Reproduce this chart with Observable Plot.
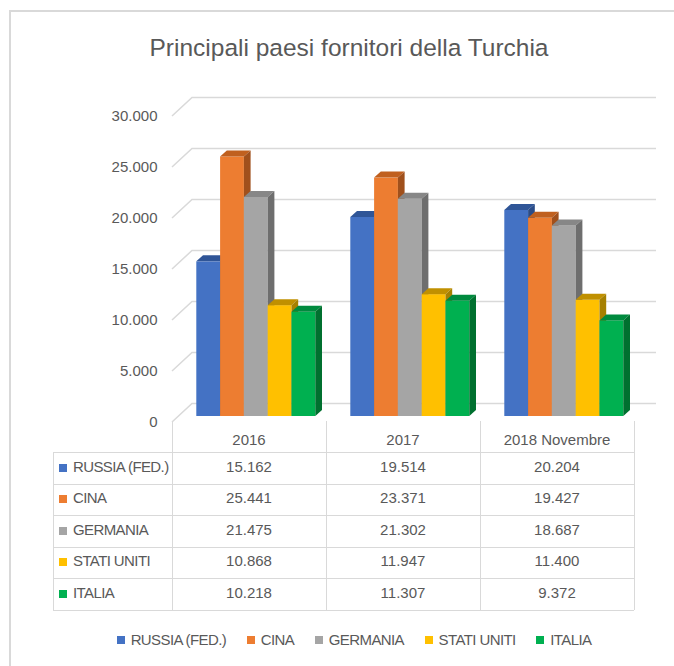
<!DOCTYPE html>
<html><head><meta charset="utf-8">
<script src="https://cdn.jsdelivr.net/npm/d3@7"></script>
<script src="https://cdn.jsdelivr.net/npm/@observablehq/plot@0.6"></script>
<style>
body{margin:0;background:#fff;}
#chart{position:relative;width:674px;height:666px;overflow:hidden;background:#fff;
  font-family:"Liberation Sans",Arial,sans-serif;color:#595959;}
.abs{position:absolute;}
.hl{position:absolute;height:0;border-top:1.5px solid #D9D9D9;}
.vl{position:absolute;width:0;border-left:1.5px solid #D9D9D9;}
.cell{position:absolute;font-size:15px;line-height:18px;text-align:center;white-space:nowrap;}
.lab{letter-spacing:-0.6px;}
.mk{position:absolute;width:8px;height:8px;}
#legend{position:absolute;left:0;width:708px;top:631px;display:flex;justify-content:center;align-items:center;font-size:15px;line-height:18px;letter-spacing:-0.6px;}
#legend .it{display:flex;align-items:center;margin:0 10.3px;white-space:nowrap;}
#legend .sw{width:8px;height:8px;margin-right:6px;}
</style></head>
<body><div id="chart"></div>
<script>
// ---- data ----
const title = "Principali paesi fornitori della Turchia";
const years = ["2016", "2017", "2018 Novembre"];
const series = ["RUSSIA (FED.)", "CINA", "GERMANIA", "STATI UNITI", "ITALIA"];
const russia = [15162, 19514, 20204];
const cina = [25441, 23371, 19427];
const germania = [21475, 21302, 18687];
const statiUniti = [10868, 11947, 11400];
const italia = [10218, 11307, 9372];
const yTicks = [0, 5000, 10000, 15000, 20000, 25000, 30000];
const frontColors = ["#4472C4", "#ED7D31", "#A5A5A5", "#FFC000", "#00B050"];
const topColors = ["#2F5597", "#C0601F", "#878787", "#C09000", "#008A3E"];
const sideColors = ["#2A4C88", "#A0501C", "#6E6E6E", "#A68000", "#00702F"];

const values = [russia, cina, germania, statiUniti, italia];
const fmt = d3.formatLocale({decimal: ",", thousands: ".", grouping: [3], currency: ["", "€"]}).format(",");

// ---- layout ----
const W = 674, SVG_TOP = 80, SVG_H = 350;
const mL = 178.7, mR = 33.3, mT = 30, mB = 14;
const band = (W - mL - mR) / years.length;
const clusterStart = 17.3, barW = 23.8;
const depth = [6.7, -6];        // bar depth projection
const wall = [13.3, -12.5];     // bar front -> back wall
const front = [-6.7, 6];        // bar front -> front plane
const gridColor = "#D9D9D9";

const chart = document.getElementById("chart");

// border + title
chart.insertAdjacentHTML("beforeend",
  `<div class="hl" style="left:9px;top:10px;width:670px;border-top-width:2px"></div>
   <div class="vl" style="left:9px;top:10px;height:660px;border-left-width:2px"></div>
   <div class="abs" style="left:0;width:698px;top:33px;text-align:center;font-size:24.5px;line-height:30px;color:#595959">${title}</div>`);

function gridMark(index, scales) {
  const g = d3.create("svg:g").attr("fill", "none").attr("stroke", gridColor).attr("stroke-width", 1.5);
  const xl = mL + front[0];
  const xw = mL + wall[0];
  const xr = W - mR + wall[0] + 2;
  for (const t of yTicks) {
    const y = scales.y(t);
    g.append("path").attr("d", `M${xl},${y + front[1]}L${xw},${y + wall[1]}L${xr},${y + wall[1]}`);
  }
  return g.node();
}

function facesMark(j) {
  return (index, scales) => {
    const g = d3.create("svg:g");
    years.forEach((yr, i) => {
      const v = values[j][i];
      const x0 = scales.x(yr) + clusterStart + j * barW, x1 = x0 + barW;
      const yt = scales.y(v), yb = scales.y(0);
      const [dx, dy] = depth;
      g.append("polygon").attr("points", [[x0, yt], [x1, yt], [x1 + dx, yt + dy], [x0 + dx, yt + dy]].map(p => p.join(",")).join(" ")).attr("fill", topColors[j]);
      g.append("polygon").attr("points", [[x1, yt], [x1 + dx, yt + dy], [x1 + dx, yb + dy], [x1, yb]].map(p => p.join(",")).join(" ")).attr("fill", sideColors[j]);
    });
    return g.node();
  };
}

const marks = [gridMark];
series.forEach((s, j) => {
  const data = years.map((yr, i) => ({year: yr, value: values[j][i]}));
  marks.push(Plot.barY(data, {
    x: "year", y: "value", fill: frontColors[j],
    insetLeft: clusterStart + j * barW,
    insetRight: band - clusterStart - (j + 1) * barW
  }));
  marks.push(facesMark(j));
});
marks.push(Plot.text(yTicks, {
  y: d => d, text: d => fmt(d), frameAnchor: "left", textAnchor: "end",
  dx: -21.7, dy: front[1], fontSize: 15, fill: "#595959",
  fontFamily: '"Liberation Sans",Arial,sans-serif'
}));

const svg = Plot.plot({
  width: W, height: SVG_H,
  marginLeft: mL, marginRight: mR, marginTop: mT, marginBottom: mB,
  x: {domain: years, padding: 0, axis: null},
  y: {domain: [0, 30000], axis: null},
  style: {background: "transparent", overflow: "visible"},
  marks
});
const wrap = document.createElement("div");
wrap.className = "abs";
wrap.style.left = "0px"; wrap.style.top = SVG_TOP + "px";
wrap.appendChild(svg);
chart.appendChild(wrap);

// ---- data table ----
const colX = [53].concat(years.map((_, i) => mL + front[0] + i * band), [mL + front[0] + years.length * band]);
const headerTop = 421, rowTop = 452, rowH = 31.5;
const tableBottom = rowTop + rowH * series.length;
let html = "";
html += `<div class="vl" style="left:${colX[0]}px;top:${rowTop}px;height:${tableBottom - rowTop}px"></div>`;
for (let k = 1; k < colX.length; k++)
  html += `<div class="vl" style="left:${colX[k]}px;top:${headerTop}px;height:${tableBottom - headerTop}px"></div>`;
for (let r = 0; r <= series.length; r++)
  html += `<div class="hl" style="left:${colX[0]}px;top:${rowTop + r * rowH}px;width:${colX[colX.length - 1] - colX[0]}px"></div>`;
years.forEach((yr, i) => {
  html += `<div class="cell" style="left:${colX[i + 1]}px;width:${band}px;top:${headerTop + 10}px">${yr}</div>`;
});
series.forEach((s, j) => {
  const cy = rowTop + j * rowH + rowH / 2;
  html += `<div class="mk" style="left:59px;top:${cy - 4}px;background:${frontColors[j]}"></div>`;
  html += `<div class="cell lab" style="left:73px;top:${cy - 10}px;text-align:left">${s}</div>`;
  years.forEach((yr, i) => {
    html += `<div class="cell" style="left:${colX[i + 1]}px;width:${band}px;top:${cy - 10}px">${fmt(values[j][i])}</div>`;
  });
});
html += `<div id="legend">` + series.map((s, j) =>
  `<div class="it"><div class="sw" style="background:${frontColors[j]}"></div><span>${s}</span></div>`).join("") + `</div>`;
chart.insertAdjacentHTML("beforeend", html);
</script>
</body></html>
